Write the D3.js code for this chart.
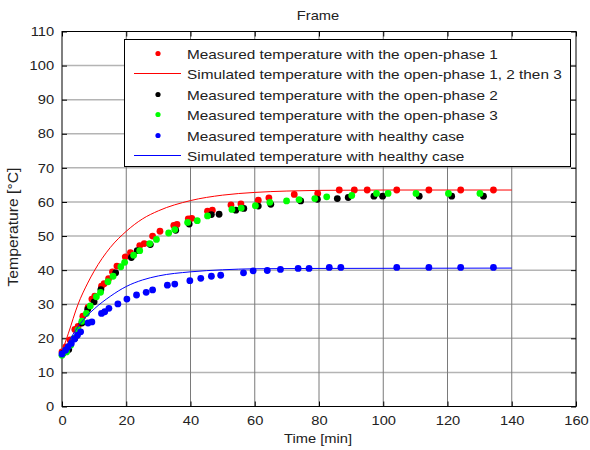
<!DOCTYPE html>
<html>
<head>
<meta charset="utf-8">
<script src="https://cdn.jsdelivr.net/npm/d3@7"></script>
<style>
	body { margin: 0; background: #fff; }
	text { font-family: Arial, "Liberation Sans", sans-serif; fill: #222; }
</style>
</head>
<body>
<svg id="chart" width="590" height="450"></svg>
<script>
'use strict';

// measured points [time (min), temperature (degC)]
const measuredPhase1 = [
	[0,16.0],[1.2,17.5],[2.5,19.5],[4.0,22.6],[5.0,23.5],[6.5,26.5],[8.1,29.1],[9.3,31.5],
	[10.2,32.4],[12.3,35.3],[13.1,36.0],[14.5,37.5],[15.7,39.5],[17.1,41.2],[19.7,43.9],
	[21.3,45.1],[24.2,47.2],[25.6,47.8],[28.2,50.0],[30.5,51.4],[34.8,53.1],[35.8,53.4],
	[39.3,55.0],[40.4,55.2],[45.3,57.3],[46.8,57.6],[52.6,59.1],[55.7,59.4],[61.1,60.5],
	[64.4,61.2],[72.3,62.2],[79.6,62.5],[86.3,63.5],[91.0,63.5],[95.0,63.5],[104.2,63.5],
	[114.2,63.5],[124.1,63.5],[134.3,63.5]
];
const measuredPhase2 = [
	[0.3,15.6],[2.1,16.7],[4.0,20.0],[6.2,24.5],[8.0,28.5],[10.0,30.7],[12.1,34.3],
	[16.7,39.2],[21.6,43.7],[23.4,45.7],[27.5,47.5],[35.4,51.7],[39.6,53.5],[46.5,56.3],
	[48.9,56.4],[54.1,57.6],[56.6,58.1],[61.1,58.8],[65.0,59.3],[74.3,60.3],[79.5,60.8],
	[85.7,61.0],[89.1,61.3],[97.1,61.7],[99.8,61.7],[111.2,61.7],[121.3,61.7],[131.2,61.7]
];
const measuredPhase3 = [
	[0,15.0],[1.4,16.0],[2.7,18.0],[3.8,20.0],[5.0,22.5],[6.2,25.0],[7.6,27.3],[8.8,29.5],
	[10.7,32.2],[12.0,33.5],[14.3,36.6],[15.9,38.2],[18.3,41.0],[19.5,42.3],[22.3,44.4],
	[24.2,45.7],[27.3,47.8],[29.4,49.0],[33.2,50.9],[35.1,51.9],[39.1,54.0],[42.1,54.5],
	[45.3,55.9],[52.9,57.8],[55.8,58.2],[60.2,58.9],[64.7,59.9],[69.9,60.3],[73.8,60.7],
	[78.7,61.0],[82.4,61.5],[90.2,61.9],[97.9,62.5],[101.5,62.5],[110.2,62.5],[120.3,62.5],
	[130.1,62.5]
];
const measuredHealthy = [
	[0,15.4],[1.1,16.5],[1.9,17.5],[2.9,18.5],[3.9,19.8],[4.8,20.9],[5.8,21.9],[8.1,24.5],
	[9.3,24.8],[12.3,27.3],[13.3,27.8],[14.6,28.8],[17.4,30.1],[20.2,31.5],[23.2,32.7],
	[26.2,33.5],[28.2,34.2],[32.8,35.6],[35.1,35.9],[39.8,36.9],[43.2,37.6],[46.5,38.2],
	[49.4,38.5],[56.5,39.2],[59.5,39.8],[63.9,39.9],[68.0,40.2],[73.5,40.5],[76.9,40.5],
	[83.2,40.8],[86.8,40.8],[104.2,40.8],[114.2,40.8],[124.1,40.8],[134.3,40.8]
];

// simulated curves
const simulatedPhases = [
	[0,16],[2,21.5],[5,30],[8,36.2],[10,39.7],[15,46.6],[20,51.4],[25,55.0],[30,57.4],
	[40,60.4],[50,62.0],[60,62.8],[70,63.2],[80,63.4],[100,63.5],[140,63.5]
];
const simulatedHealthy = [
	[0,15],[2,18.8],[5,23.4],[8,26.8],[10,28.6],[15,32.3],[20,35.2],[25,37.1],[30,38.3],
	[40,39.5],[50,40.1],[60,40.4],[80,40.5],[140,40.6]
];

const xTicks = [0,20,40,60,80,100,120,140,160];
const yTicks = [0,10,20,30,40,50,60,70,80,90,100,110];

const legendItems = [
	{label: 'Measured temperature with the open-phase 1', colour: '#ff0000', kind: 'dot'},
	{label: 'Simulated temperature with the open-phase 1, 2 then 3', colour: '#ff0000', kind: 'line'},
	{label: 'Measured temperature with the open-phase 2', colour: '#000000', kind: 'dot'},
	{label: 'Measured temperature with the open-phase 3', colour: '#00ff00', kind: 'dot'},
	{label: 'Measured temperature with healthy case', colour: '#0000ff', kind: 'dot'},
	{label: 'Simulated temperature with healthy case', colour: '#0000ff', kind: 'line'},
];

let svg = d3.select('#chart');
let plotLeft = 62, plotRight = 576, plotTop = 31.5, plotBottom = 406.5;
// the original picture's lettering is a little wider than Arial
const STRETCH = 1.13;

let x = d3.scaleLinear().domain([0,160]).range([plotLeft,plotRight]);
let y = d3.scaleLinear().domain([0,110]).range([plotBottom,plotTop]);

// grid
let grid = svg.append('g');
grid.selectAll('line.h').data(yTicks.slice(1,-1)).enter().append('line')
	.attr('x1', plotLeft).attr('x2', plotRight)
	.attr('y1', d=>y(d)).attr('y2', d=>y(d))
	.attr('stroke', '#b4b4b4').attr('stroke-width', 1.5);
grid.selectAll('line.v').data(xTicks.slice(1,-1)).enter().append('line')
	.attr('y1', plotTop).attr('y2', plotBottom)
	.attr('x1', d=>x(d)).attr('x2', d=>x(d))
	.attr('stroke', '#7a7a7a').attr('stroke-width', 1);

// axes, ticks pointing inward on all four sides
function styleAxis(g){
	g.select('.domain').remove();
	g.selectAll('.tick line').attr('stroke', '#000');
	g.selectAll('.tick text')
		.attr('font-size', 13)
		.attr('font-family', 'Arial, "Liberation Sans", sans-serif')
		.attr('fill', '#222')
		.attr('transform', `scale(${STRETCH},1)`);
}
svg.append('g').attr('transform', `translate(0,${plotBottom})`)
	.call(d3.axisBottom(x).tickValues(xTicks).tickSizeInner(-5).tickSizeOuter(0).tickPadding(9))
	.call(styleAxis);
svg.append('g').attr('transform', `translate(0,${plotTop})`)
	.call(d3.axisTop(x).tickValues(xTicks).tickSizeInner(-5).tickSizeOuter(0).tickFormat(''))
	.call(styleAxis);
svg.append('g').attr('transform', `translate(${plotLeft},0)`)
	.call(d3.axisLeft(y).tickValues(yTicks).tickSizeInner(-5).tickSizeOuter(0).tickPadding(7))
	.call(styleAxis);
svg.append('g').attr('transform', `translate(${plotRight},0)`)
	.call(d3.axisRight(y).tickValues(yTicks).tickSizeInner(-5).tickSizeOuter(0).tickFormat(''))
	.call(styleAxis);

svg.append('rect')
	.attr('x', plotLeft).attr('y', plotTop)
	.attr('width', plotRight-plotLeft).attr('height', plotBottom-plotTop)
	.attr('fill', 'none').attr('stroke', '#000').attr('stroke-width', 1);

// series
let line = d3.line().x(d=>x(d[0])).y(d=>y(d[1])).curve(d3.curveMonotoneX);

function drawDots(data, colour){
	svg.append('g').selectAll('circle').data(data).enter().append('circle')
		.attr('cx', d=>x(d[0]))
		.attr('cy', d=>y(d[1]))
		.attr('r', 3.4)
		.attr('fill', colour);
}

drawDots(measuredPhase1, '#ff0000');
svg.append('path').datum(simulatedPhases)
	.attr('d', line).attr('fill', 'none').attr('stroke', '#ff0000').attr('stroke-width', 1);
drawDots(measuredPhase2, '#000000');
drawDots(measuredPhase3, '#00ff00');
drawDots(measuredHealthy, '#0000ff');
svg.append('path').datum(simulatedHealthy)
	.attr('d', line).attr('fill', 'none').attr('stroke', '#0000ff').attr('stroke-width', 1);

// legend
let legend = svg.append('g');
legend.append('rect')
	.attr('x', 124.5).attr('y', 39.5).attr('width', 446).attr('height', 127)
	.attr('fill', '#fff').attr('stroke', '#000').attr('stroke-width', 1);
let rowY = d3.scalePoint().domain(d3.range(legendItems.length)).range([53,155]);
let rows = legend.selectAll('g.row').data(legendItems).enter().append('g')
	.attr('transform', (d,i)=>`translate(0,${Math.round(rowY(i)) + 0.5})`);
rows.filter(d=>d.kind === 'dot').append('circle')
	.attr('cx', 158).attr('cy', 0).attr('r', 2.6).attr('fill', d=>d.colour);
rows.filter(d=>d.kind === 'line').append('line')
	.attr('x1', 134).attr('x2', 181).attr('y1', 0).attr('y2', 0)
	.attr('stroke', d=>d.colour).attr('stroke-width', 1);
rows.append('text')
	.attr('transform', `translate(187,5) scale(${STRETCH},1)`)
	.attr('font-size', 13.6)
	.text(d=>d.label);

// titles
function label(px, py, txt){
	return svg.append('text')
		.attr('transform', `translate(${px},${py}) scale(${STRETCH},1)`)
		.attr('text-anchor', 'middle')
		.attr('font-size', 13)
		.text(txt);
}
label(318, 20, 'Frame');
label(318, 443, 'Time [min]');
svg.append('text').attr('transform', 'translate(18,227) rotate(-90)').attr('text-anchor', 'middle')
	.attr('font-size', 14)
	.attr('textLength', 119).attr('lengthAdjust', 'spacingAndGlyphs')
	.text('Temperature [°C]');
</script>
</body>
</html>
